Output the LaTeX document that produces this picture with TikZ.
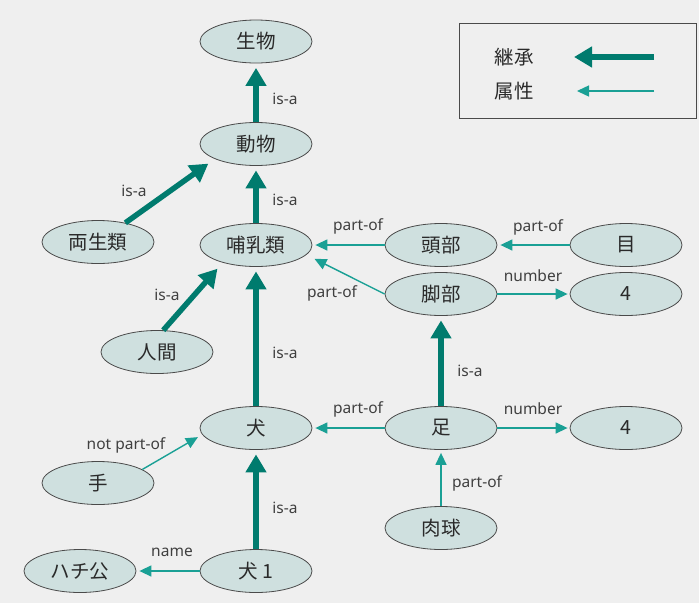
\documentclass[tikz,border=0pt]{standalone}
\usepackage{fontspec}
\setmainfont{Noto Sans}
\newfontfamily\jpfont{Noto Sans CJK JP}
\usetikzlibrary{arrows.meta}
\definecolor{bgc}{HTML}{EFEFEF}
\definecolor{nodefill}{HTML}{CFE0DF}
\definecolor{nodeline}{HTML}{4A4A4A}
\definecolor{thickc}{HTML}{007B6E}
\definecolor{thinc}{HTML}{1AA095}
\definecolor{txtc}{HTML}{2A2A2A}
\tikzset{
  concept/.style={ellipse, draw=nodeline, fill=nodefill, line width=0.8pt,
    minimum width=112pt, minimum height=43pt, inner sep=0pt,
    font=\jpfont\fontsize{19.5}{21}\selectfont, text=txtc},
  isa/.style={draw=thickc, line width=5.5pt, -{Triangle[length=18pt,width=20pt]}, shorten >=4.5pt},
  attr/.style={draw=thinc, line width=1.4pt, -{Triangle[length=12pt,width=11pt]}, shorten >=3pt},
  lbl/.style={font=\fontsize{15.5}{17}\selectfont, text=txtc!90, inner sep=0pt},
  legtxt/.style={font=\jpfont\fontsize{19.5}{21}\selectfont, text=txtc, inner sep=0pt},
}
\usetikzlibrary{shapes.geometric}
\begin{document}
\begin{tikzpicture}[x=1pt,y=-1pt]
\fill[bgc] (0,0) rectangle (699,603);
\useasboundingbox (0,0) rectangle (699,603);

% nodes
\node[concept] (seibutsu) at (256,41.5) {生物};
\node[concept] (doubutsu) at (256,144) {動物};
\node[concept] (ryousei) at (98,242) {両生類};
\node[concept] (honyu) at (256,245) {哺乳類};
\node[concept] (ningen) at (157,352) {人間};
\node[concept] (inu) at (256,428) {犬};
\node[concept] (te) at (98,483) {手};
\node[concept] (hachi) at (80,571) {ハチ公};
\node[concept] (inu1) at (256,571) {犬 1};
\node[concept] (ashi) at (441,428) {足};
\node[concept] (fourb) at (626,428) {4};
\node[concept] (nikukyu) at (441,528) {肉球};
\node[concept] (toubu) at (441,245) {頭部};
\node[concept] (me) at (626,245) {目};
\node[concept] (kyakubu) at (441,294) {脚部};
\node[concept] (foura) at (626,294) {4};

% is-a (inheritance)
\draw[isa] (doubutsu) -- (seibutsu) node[lbl] (l1) at (285,99) {is-a};
\draw[isa] (honyu) -- (doubutsu) node[lbl] (l2) at (285,200) {is-a};
\draw[isa, shorten >=8pt] (ryousei.35) -- (doubutsu.200) node[lbl] (l3) at (134,191) {is-a};
\draw[isa, shorten >=8pt] (ningen.74) -- (honyu.208) node[lbl] (l4) at (167,295) {is-a};
\draw[isa] (inu) -- (honyu) node[lbl] (l5) at (285,353) {is-a};
\draw[isa] (inu1) -- (inu) node[lbl] (l6) at (285,508) {is-a};
\draw[isa] (ashi) -- (kyakubu) node[lbl] (l7) at (470,371) {is-a};

% attributes
\draw[attr] (toubu) -- (honyu) node[lbl] (l8) at (358,226) {part-of};
\draw[attr] (me) -- (toubu) node[lbl] (l9) at (538,227) {part-of};
\draw[attr, shorten >=9pt] (kyakubu.west) -- (honyu.-11) node[lbl] (l10) at (332,293) {part-of};
\draw[attr, shorten >=2pt] (kyakubu) -- (foura) node[lbl] (l11) at (533,276) {number};
\draw[attr] (ashi) -- (inu) node[lbl] (l12) at (358,409) {part-of};
\draw[attr, shorten >=2pt] (ashi) -- (fourb) node[lbl] (l13) at (533,409) {number};
\draw[attr] (nikukyu) -- (ashi) node[lbl] (l14) at (477,483) {part-of};
\draw[attr, shorten >=5pt] (te.17) -- (inu.187) node[lbl] (l15) at (126,445) {not part-of};
\draw[attr] (inu1) -- (hachi) node[lbl] (l16) at (172,552) {name};

% legend
\node[draw=nodeline, line width=1pt, minimum width=237pt, minimum height=95pt, inner sep=0pt] (legend) at (577.5,70.5) {};
\node[legtxt] (legA) at (514,57) {継承};
\node[legtxt] (legB) at (514,91) {属性};
\coordinate (ga1) at (654,57);
\coordinate (ga2) at (574,57);
\coordinate (gb1) at (654,91);
\coordinate (gb2) at (577,91);
\draw[isa, shorten >=0pt] (ga1) -- (ga2);
\draw[attr, shorten >=0pt] (gb1) -- (gb2);
\end{tikzpicture}
\end{document}
